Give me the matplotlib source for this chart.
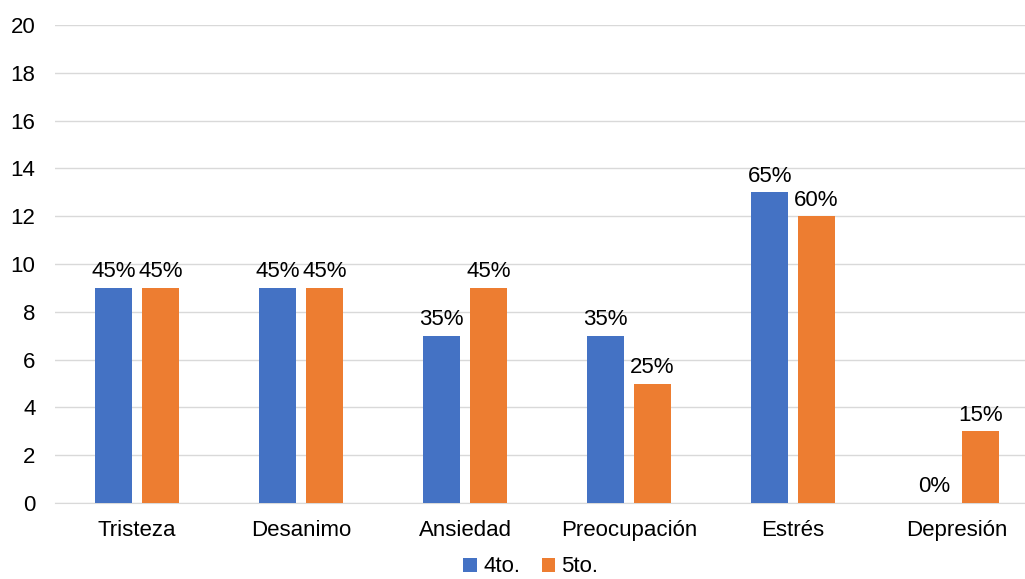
import matplotlib.pyplot as plt
import numpy as np

plt.rcParams['font.family'] = ['Liberation Sans', 'DejaVu Sans']

categorias = ["Tristeza", "Desanimo", "Ansiedad", "Preocupación", "Estrés", "Depresión"]
cuarto = [9, 9, 7, 7, 13, 0]
quinto = [9, 9, 9, 5, 12, 3]
etiquetas_4 = ["45%", "45%", "35%", "35%", "65%", "0%"]
etiquetas_5 = ["45%", "45%", "45%", "25%", "60%", "15%"]

AZUL = "#4472C4"
NARANJA = "#ED7D31"
TAM = 16

fig = plt.figure(figsize=(10.25, 5.79), dpi=100)
# axes runs a little past the right edge, as in the original
ax = fig.add_axes([55 / 1025, 1 - 503 / 579, 984 / 1025, 478 / 579])

x = np.arange(len(categorias))
ancho = 0.225
desp = 0.142
b1 = ax.bar(x - desp, cuarto, ancho, color=AZUL, label="4to.", zorder=3)
b2 = ax.bar(x + desp, quinto, ancho, color=NARANJA, label="5to.", zorder=3)

for barras, textos in ((b1, etiquetas_4), (b2, etiquetas_5)):
    for b, t in zip(barras, textos):
        ax.annotate(t, (b.get_x() + b.get_width() / 2, b.get_height()),
                    xytext=(0, 4), textcoords="offset points",
                    ha="center", va="bottom", fontsize=TAM, color="#000000")

ax.set_xlim(-0.5, len(categorias) - 0.5)
ax.set_ylim(0, 20)
ax.set_yticks(range(0, 21, 2))
ax.set_xticks(x)
ax.set_xticklabels(categorias)
ax.tick_params(axis="both", length=0, labelsize=TAM, colors="#000000")
ax.tick_params(axis="y", pad=14)
ax.tick_params(axis="x", pad=12)
ax.grid(axis="y", color="#d9d9d9", linewidth=1, zorder=0)
for s in ["top", "right", "left"]:
    ax.spines[s].set_visible(False)
ax.spines["bottom"].set_color("#d9d9d9")

fig.legend(handles=[b1, b2], loc="center", bbox_to_anchor=(0.518, 1 - 567 / 579),
           ncol=2, frameon=False, fontsize=TAM, handlelength=0.6, handleheight=0.6,
           handletextpad=0.3, columnspacing=0.95)

fig.savefig("out.png", dpi=100)
